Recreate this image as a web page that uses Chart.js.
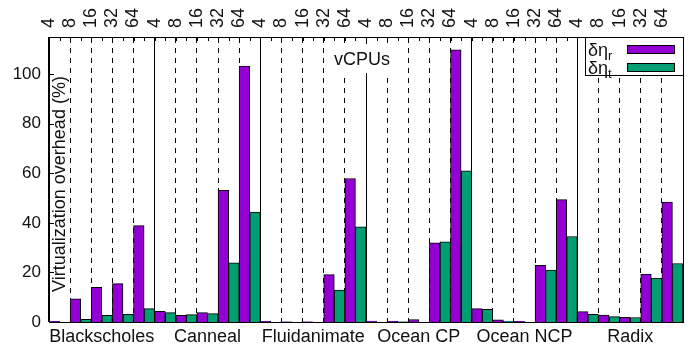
<!DOCTYPE html>
<html>
<head>
<meta charset="utf-8">
<script src="https://cdn.jsdelivr.net/npm/chart.js@4.4.1/dist/chart.umd.min.js"></script>
<style>
  html, body { margin: 0; padding: 0; background: #fff; }
</style>
</head>
<body>
<canvas id="chart" width="691" height="350"></canvas>
<script>
// benchmarks and vCPU counts
const groups = ['Blackscholes', 'Canneal', 'Fluidanimate', 'Ocean CP', 'Ocean NCP', 'Radix'];
const vcpus = ['4', '8', '16', '32', '64'];
const yTicks = [0, 20, 40, 60, 80, 100];

// virtualization overhead (%), 5 vCPU values per benchmark
const etaR = [
  0.3, 9.3, 14.0, 15.5, 38.9,
  4.3, 2.7, 3.8, 53.1, 103.3,
  0.3, 0.1, 0.1, 19.1, 57.9,
  0.4, 0.3, 1.0, 31.9, 109.8,
  5.4, 0.9, 0.3, 22.9, 49.4,
  4.2, 2.8, 1.9, 19.3, 48.4
];
const etaT = [
  0.0, 1.1, 2.7, 3.1, 5.4,
  3.8, 3.0, 3.4, 23.9, 44.4,
  0.0, 0.0, 0.0, 12.9, 38.4,
  0.0, 0.1, 0.0, 32.3, 61.0,
  5.1, 0.4, 0.0, 21.0, 34.5,
  3.1, 2.2, 1.8, 17.7, 23.6
];

const FONT = "'Liberation Sans', Arial, sans-serif";
const INK = '#111';
const PURPLE = '#9400d3';
const GREEN = '#009e73';

const labels = groups.flatMap(() => vcpus);

// inward ticks, frame, y title, "vCPUs" label and the key box
const decorations = {
  id: 'decorations',
  afterDraw(chart) {
    const { ctx, chartArea: a, scales } = chart;
    const n = labels.length;
    const slot = (a.right - a.left) / n;
    ctx.save();
    ctx.strokeStyle = '#000';
    ctx.lineWidth = 1;
    ctx.beginPath();
    for (let i = 1; i < 2 * n; i++) {
      const px = Math.round(a.left + i * slot / 2) + 0.5;
      ctx.moveTo(px, a.top);
      ctx.lineTo(px, a.top + 4);
    }
    yTicks.forEach(v => {
      const py = Math.round(scales.y.getPixelForValue(v)) + 0.5;
      ctx.moveTo(a.left, py);
      ctx.lineTo(a.left + 5, py);
    });
    ctx.stroke();
    ctx.strokeRect(Math.round(a.left) + 0.5, Math.round(a.top) + 0.5,
      Math.round(a.right - a.left), Math.round(a.bottom - a.top));

    // y axis title, inside the plot
    ctx.fillStyle = INK;
    ctx.font = '18px ' + FONT;
    ctx.save();
    ctx.translate(a.left + 11, 184);
    ctx.rotate(-Math.PI / 2);
    ctx.textAlign = 'center';
    ctx.textBaseline = 'middle';
    ctx.fillText('Virtualization overhead (%)', 0, 0);
    ctx.restore();

    // "vCPUs" label on a white patch
    const mid = (a.left + a.right) / 2 - 4;
    ctx.fillStyle = '#fff';
    ctx.fillRect(mid - 32, a.top + 7, 64, 29);
    ctx.fillStyle = INK;
    ctx.textAlign = 'center';
    ctx.textBaseline = 'middle';
    ctx.fillText('vCPUs', mid, a.top + 23);

    // key
    const kx = a.right - 98, ky = a.top, kh = 38;
    ctx.fillStyle = '#fff';
    ctx.fillRect(kx, ky, a.right - kx, kh);
    ctx.strokeRect(Math.round(kx) + 0.5, Math.round(ky) + 0.5, Math.round(a.right - kx), kh);
    const rows = [['r', PURPLE, ky + 13], ['t', GREEN, ky + 31]];
    rows.forEach(([sub, col, cy]) => {
      ctx.fillStyle = INK;
      ctx.textAlign = 'left';
      ctx.textBaseline = 'alphabetic';
      ctx.font = '18px ' + FONT;
      ctx.fillText('δη', kx + 3, cy + 6);
      const w = ctx.measureText('δη').width;
      ctx.font = '13px ' + FONT;
      ctx.fillText(sub, kx + 3 + w, cy + 10);
      ctx.fillStyle = col;
      ctx.fillRect(kx + 42, cy - 4, 47, 8);
      ctx.strokeStyle = '#000';
      ctx.strokeRect(kx + 42.5, cy - 4.5, 47, 8);
    });
    ctx.restore();
  }
};

new Chart(document.getElementById('chart'), {
  type: 'bar',
  data: {
    labels: labels,
    datasets: [
      { label: 'δηr', data: etaR, backgroundColor: PURPLE },
      { label: 'δηt', data: etaT, backgroundColor: GREEN }
    ]
  },
  options: {
    responsive: false,
    animation: false,
    devicePixelRatio: 1,
    layout: { padding: { right: 8 } },
    datasets: {
      bar: {
        barPercentage: 1,
        categoryPercentage: 1,
        borderWidth: 1,
        borderColor: '#000'
      }
    },
    plugins: {
      legend: { display: false },
      tooltip: { enabled: false }
    },
    scales: {
      x: {
        type: 'category',
        position: 'top',
        offset: true,
        grid: {
          offset: true,
          drawTicks: false,
          lineWidth: 1,
          color: c => (c.index % 5 === 0 ? 'rgba(0,0,0,0)' : '#000')
        },
        border: { display: true, color: '#000', dash: [5, 5] },
        ticks: {
          autoSkip: false,
          minRotation: 90,
          maxRotation: 90,
          padding: 9,
          labelOffset: 11,
          color: INK,
          font: { family: FONT, size: 18 }
        },
        afterFit: s => { s.height = 37; }
      },
      x2: {
        type: 'category',
        position: 'bottom',
        labels: groups,
        offset: true,
        grid: { offset: true, drawTicks: false, lineWidth: 1, color: '#000' },
        border: { display: true, color: '#000' },
        ticks: {
          autoSkip: false,
          maxRotation: 0,
          padding: 4,
          color: INK,
          font: { family: FONT, size: 18 }
        },
        afterFit: s => { s.height = 28; }
      },
      y: {
        min: 0,
        max: 115,
        grid: { display: false, drawTicks: false },
        border: { display: true, color: '#000' },
        ticks: {
          padding: 8,
          color: INK,
          font: { family: FONT, size: 17 }
        },
        afterBuildTicks: s => { s.ticks = yTicks.map(v => ({ value: v })); },
        afterFit: s => { s.width = 49; }
      }
    }
  },
  plugins: [decorations]
});
</script>
</body>
</html>
